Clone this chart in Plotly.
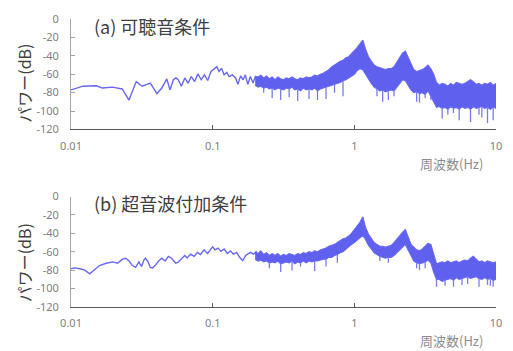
import plotly.graph_objects as go

# ---------------- data ----------------
# (a) 可聴音条件 : low-frequency part (single line)
freq_low_a = [0.0100, 0.01217, 0.01507, 0.01668, 0.01958, 0.02188, 0.02297, 0.02568, 0.02887, 0.03177,
              0.0363, 0.0404, 0.0438, 0.0474, 0.0500, 0.0528, 0.0551, 0.0571, 0.0602, 0.0635,
              0.0670, 0.0707, 0.0746, 0.0787, 0.0830, 0.0875, 0.0923, 0.0973, 0.1027, 0.1070,
              0.1110, 0.1155, 0.1205, 0.1258, 0.1306, 0.1377, 0.1452, 0.1508, 0.1573, 0.1640,
              0.1700, 0.1770, 0.1845, 0.1927, 0.2000]
power_low_a = [-77, -73, -72.5, -75, -74, -75, -76, -88, -68, -73,
               -69.6, -81, -75, -65, -77, -66, -64, -66, -73, -64,
               -69.6, -62.5, -68, -59.6, -66, -60.7, -66.8, -57, -53.6, -51.8,
               -57, -53.6, -60.7, -58, -62.5, -60.7, -64, -71, -61.8, -66,
               -60.7, -71, -62.5, -69.6, -62.5]

# (b) 超音波付加条件 : low-frequency part (single line)
freq_low_b = [0.0100, 0.01066, 0.01155, 0.01251, 0.01355, 0.01468, 0.0159, 0.0177, 0.0197, 0.0213,
              0.0231, 0.02435, 0.0257, 0.0271, 0.02858, 0.03015, 0.03146, 0.0327, 0.03354, 0.0350,
              0.0363, 0.0377, 0.0393, 0.0415, 0.0438, 0.0462, 0.0487, 0.0513, 0.0548, 0.0571,
              0.0602, 0.0635, 0.0660, 0.0700, 0.0740, 0.0780, 0.0820, 0.0870, 0.0920, 0.0965,
              0.1000, 0.1040, 0.1090, 0.1145, 0.1205, 0.1270, 0.1335, 0.1400, 0.1475, 0.1550,
              0.1630, 0.1710, 0.1845, 0.1945, 0.2045]
power_low_b = [-78.5, -77.5, -78.5, -80, -84, -80, -75, -72.5, -71, -72.5,
               -68, -67, -70, -75, -77, -71, -76, -69, -67, -71,
               -77, -77.5, -75, -70, -67, -70, -65, -67, -72.5, -71.4,
               -68, -64, -66.8, -62.5, -65, -60.7, -63, -58, -61.8, -57,
               -54.6, -58, -56, -59.6, -57, -61.8, -59, -62.5, -60.7, -66,
               -69.6, -64, -60.7, -62.5, -59.6]

# dense (noisy) part: sample frequencies shared by both conditions
freq_band = [0.1995, 0.2089, 0.2188, 0.2291, 0.2399, 0.2512, 0.2630, 0.2754, 0.2884, 0.3020,
             0.3162, 0.3311, 0.3467, 0.3631, 0.3802, 0.3981, 0.4169, 0.4365, 0.4571, 0.4786,
             0.5012, 0.5248, 0.5495, 0.5754, 0.6026, 0.6310, 0.6607, 0.6918, 0.7244, 0.7586,
             0.7943, 0.8318, 0.8710, 0.9120, 0.9550, 1.000, 1.047, 1.096, 1.148, 1.202,
             1.259, 1.318, 1.380, 1.445, 1.514, 1.585, 1.660, 1.738, 1.820, 1.905,
             1.995, 2.089, 2.188, 2.291, 2.399, 2.512, 2.630, 2.754, 2.884, 3.020,
             3.162, 3.311, 3.467, 3.631, 3.802, 3.981, 4.169, 4.365, 4.571, 4.786,
             5.012, 5.248, 5.495, 5.754, 6.026, 6.310, 6.607, 6.918, 7.244, 7.586,
             7.943, 8.318, 8.710, 9.120, 9.550, 10.00]

# (a) upper edge / core lower edge of the noisy band (dB)
upper_a = [-62, -63, -61, -64, -62, -65, -63, -66, -63, -65,
           -66, -64, -65, -63, -65, -66, -64, -65, -63, -64,
           -63, -61, -62, -60, -59, -57, -55, -52, -50, -48,
           -46, -45, -42, -41, -38, -35, -31, -27, -23, -33,
           -41, -46, -50, -52, -53, -54, -55, -54, -54, -52,
           -47, -42, -37, -35, -42, -50, -55, -57, -56, -55,
           -53, -50, -54, -60, -69, -72, -70, -71, -73, -70,
           -72, -69, -70, -71, -70, -68, -66, -68, -71, -70,
           -72, -70, -71, -69, -72, -70]
lower_a = [-72, -74, -73, -75, -74, -76, -75, -77, -75, -76,
           -77, -75, -76, -74, -77, -76, -78, -75, -77, -76,
           -77, -75, -78, -76, -75, -74, -73, -72, -71, -70,
           -69, -67, -66, -64, -62, -60, -56, -54, -55, -60,
           -66, -70, -74, -76, -78, -77, -79, -78, -77, -78,
           -74, -70, -66, -67, -72, -77, -80, -79, -81, -80,
           -82, -78, -84, -90, -96, -95, -97, -96, -98, -95,
           -97, -96, -98, -95, -97, -96, -98, -95, -97, -96,
           -95, -97, -96, -98, -96, -97]
# (a) narrow downward spikes below the band
spike_freq_a = [0.2291, 0.2630, 0.3020, 0.3467, 0.3981, 0.4786, 0.5495, 0.6310, 0.7244, 0.8318,
                1.445, 1.585, 1.738, 1.905, 2.754, 2.884, 3.162, 3.467, 4.169, 4.571,
                5.012, 5.495, 6.607, 7.586, 7.943, 8.710, 9.550]
spike_db_a = [-80, -86, -88, -85, -89, -87, -88, -87, -80, -84,
              -84, -90, -88, -84, -90, -91, -86, -88, -108, -104,
              -102, -110, -112, -104, -107, -113, -110]

# (b) upper edge / core lower edge of the noisy band (dB)
upper_b = [-60, -62, -59, -63, -61, -64, -62, -64, -62, -65,
           -63, -64, -62, -63, -64, -62, -63, -61, -62, -60,
           -61, -59, -60, -58, -57, -56, -54, -53, -52, -50,
           -48, -46, -45, -43, -40, -36, -33, -28, -22, -34,
           -41, -46, -50, -52, -54, -54, -55, -54, -53, -50,
           -46, -42, -39, -36, -44, -52, -55, -58, -59, -57,
           -54, -51, -52, -62, -73, -72, -71, -72, -70, -72,
           -71, -70, -72, -70, -69, -70, -67, -65, -68, -71,
           -70, -72, -70, -71, -72, -71]
lower_b = [-68, -70, -69, -71, -70, -72, -71, -72, -70, -73,
           -72, -71, -72, -70, -73, -71, -72, -70, -72, -70,
           -71, -70, -70, -69, -68, -68, -66, -66, -64, -63,
           -61, -60, -57, -55, -52, -50, -47, -44, -42, -47,
           -53, -57, -61, -63, -65, -66, -67, -66, -66, -64,
           -61, -58, -55, -52, -58, -65, -70, -72, -73, -72,
           -71, -69, -72, -82, -90, -90, -92, -91, -90, -89,
           -91, -88, -90, -89, -88, -87, -89, -88, -87, -89,
           -90, -88, -90, -89, -91, -90]
spike_freq_b = [0.2512, 0.3020, 0.3631, 0.4169, 0.5248, 0.6310, 0.7586, 1.514, 1.738, 2.754,
                2.884, 3.162, 3.802, 4.365, 5.012, 5.754, 6.310, 7.586, 8.710, 9.120, 9.550]
spike_db_b = [-78, -82, -80, -76, -81, -76, -72, -70, -72, -78,
              -80, -78, -98, -97, -98, -96, -95, -98, -96, -97, -98]

x_tickvals = [0.01, 0.1, 1, 10]
x_ticktext = ["0.01", "0.1", "1", "10"]
y_tickvals = [0, -20, -40, -60, -80, -100, -120]
y_ticktext = ["0", "-20", "-40", "-60", "-80", "-100", "-120"]

panel_titles = ["(a) 可聴音条件", "(b) 超音波付加条件"]
y_title = "パワー(dB)"
x_title = "周波数(Hz)"

# ---------------- figure ----------------
LINE = "#6767f2"
FILL = "#6060ee"

fig = go.Figure()


def spike_segments(freqs, depths, lower):
    xs, ys = [], []
    for f, d in zip(freqs, depths):
        i = min(range(len(freq_band)), key=lambda k: abs(freq_band[k] - f))
        xs += [f, f, None]
        ys += [lower[i], d, None]
    return xs, ys


panels = [
    ("x", "y", freq_low_a, power_low_a, upper_a, lower_a, spike_freq_a, spike_db_a),
    ("x2", "y2", freq_low_b, power_low_b, upper_b, lower_b, spike_freq_b, spike_db_b),
]
for xa, ya, fl, pl, up, lo, sf, sd in panels:
    fig.add_trace(go.Scatter(x=fl, y=pl, mode="lines", xaxis=xa, yaxis=ya,
                             line=dict(color=LINE, width=1.4), showlegend=False))
    fig.add_trace(go.Scatter(x=freq_band, y=up, mode="lines", xaxis=xa, yaxis=ya,
                             line=dict(color=LINE, width=1.2), showlegend=False))
    fig.add_trace(go.Scatter(x=freq_band, y=lo, mode="lines", xaxis=xa, yaxis=ya,
                             line=dict(color=LINE, width=1.2), fill="tonexty",
                             fillcolor=FILL, showlegend=False))
    sx, sy = spike_segments(sf, sd, lo)
    fig.add_trace(go.Scatter(x=sx, y=sy, mode="lines", xaxis=xa, yaxis=ya,
                             line=dict(color="#7a7af5", width=1.3), showlegend=False))

W, H = 513, 351
ml, mr, mt, mb = 71, 11, 15, 44
ph = H - mt - mb
top_dom = [(307 - 127) / ph, 1.0]
bot_dom = [0.0, (307 - 195) / ph]

tickfont = dict(family="Noto Sans, Liberation Sans, sans-serif", size=11, color="#808080")

xcommon = dict(type="log", range=[-2, 1], tickvals=x_tickvals, ticktext=x_ticktext,
               ticks="inside", ticklen=4, tickcolor="#595959", showline=True,
               linecolor="#595959", linewidth=1, showgrid=False, zeroline=False,
               tickfont=tickfont, ticklabelstandoff=6)
ycommon = dict(range=[-120, 0], tickvals=y_tickvals, ticktext=y_ticktext,
               ticks="inside", ticklen=4, tickcolor="#a6a6a6", showline=True,
               linecolor="#a6a6a6", linewidth=1, showgrid=False, zeroline=False,
               tickfont=tickfont, ticklabelstandoff=9)

fig.update_layout(
    width=W, height=H,
    margin=dict(l=ml, r=mr, t=mt, b=mb),
    paper_bgcolor="white", plot_bgcolor="white",
    font=dict(family="Noto Sans CJK JP, Noto Sans, sans-serif"),
    xaxis=dict(domain=[0, 1], anchor="y", **xcommon),
    yaxis=dict(domain=top_dom, anchor="x", **ycommon),
    xaxis2=dict(domain=[0, 1], anchor="y2", **xcommon),
    yaxis2=dict(domain=bot_dom, anchor="x2", **ycommon),
)


def py(ypx):
    return (H - mb - ypx) / ph


def pxx(xpx):
    return (xpx - ml) / (W - ml - mr)


ann = []
for title, ty, yc, xc in [(panel_titles[0], 22, 80, 162), (panel_titles[1], 202, 262, 341)]:
    ann.append(dict(text=title, x=pxx(92), y=py(ty), xref="paper", yref="paper",
                    xanchor="left", yanchor="middle", showarrow=False,
                    font=dict(family="Noto Sans CJK JP", size=18, color="#404040")))
    ann.append(dict(text=y_title, x=pxx(23), y=py(yc), xref="paper", yref="paper",
                    xanchor="center", yanchor="middle", showarrow=False, textangle=-90,
                    font=dict(family="Noto Sans CJK JP", size=16, color="#404040")))
    ann.append(dict(text=x_title, x=pxx(457), y=py(xc), xref="paper", yref="paper",
                    xanchor="center", yanchor="middle", showarrow=False,
                    font=dict(family="Noto Sans CJK JP", size=13, color="#8c8c8c")))
fig.update_layout(annotations=ann)

fig.write_html("out.html")
